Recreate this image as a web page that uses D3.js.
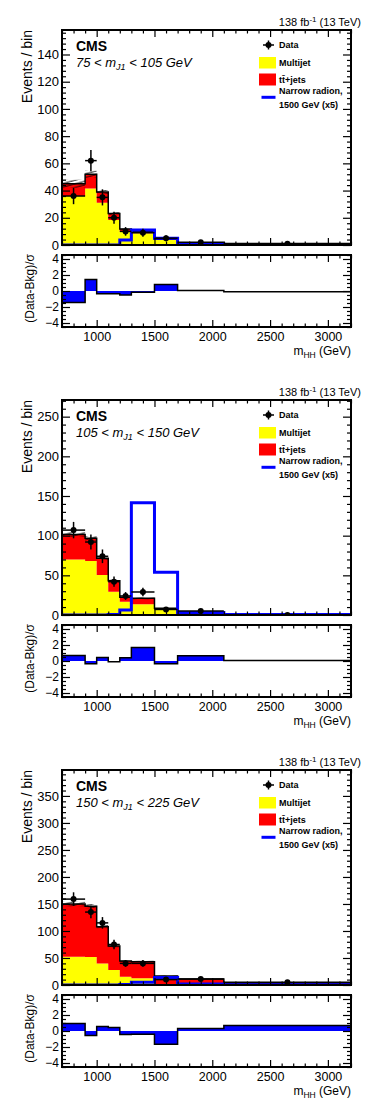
<!DOCTYPE html>
<html><head><meta charset="utf-8">
<script src="https://cdn.jsdelivr.net/npm/d3@7"></script>
<style>
body{margin:0;background:#fff}
svg{display:block}
text{font-family:"Liberation Sans",Arial,Helvetica,sans-serif;fill:#000}
</style>
</head><body>
<svg id="c" width="374" height="1109"></svg>
<script>
// ---------- data ----------
const binEdges = [700, 900, 1000, 1100, 1200, 1300, 1500, 1700, 2100, 3200];
const mJ1Low  = [75, 105, 150];
const mJ1High = [105, 150, 225];
const yMaxes  = [158, 271, 398];
const yMajorStep = [20, 50, 50];
const yMinorStep = [4, 10, 10];
const xTickLabels = [1000, 1500, 2000, 2500, 3000];
const ratioTicks = [-4, -2, 0, 2, 4];

const multijet1 = [36, 41.6, 31, 18.4, 9.8, 8.6, 3.7, 1.0, 0.8];
const ttjets1   = [9, 10.4, 8, 4.8, 1.9, 1.2, 0.7, 0.5, 0.3];
const unc1      = [3, 2.5, 1.5, 1, 0.6, 0.5, 0.3, 0.2, 0.1];
const data1     = [36, 62, 35, 20, 10, 9, 5, 2, 1];
const signal1   = [0, 0, 0, 0, 3.7, 11, 5, 0.8, 0.2];
const ratio1    = [-1.45, 1.45, -0.35, -0.35, -0.5, -0.15, 0.8, 0.05, -0.1];

const multijet2 = [70, 68, 50.4, 29.4, 16.8, 13.4, 7, 2.5, 0.6];
const ttjets2   = [31.5, 28.7, 21.1, 13.9, 5.5, 7.6, 1.4, 1.5, 0.4];
const unc2      = [3, 3, 2, 1.5, 1, 1, 0.4, 0.2, 0.1];
const data2     = [107, 92, 74, 42, 24, 29, 7, 5, 0];
const signal2   = [0, 0, 0, 0.5, 6.3, 141.6, 53.8, 3, 0.5];
const ratio2    = [0.7, -0.35, 0.45, -0.1, 0.4, 1.7, -0.35, 0.65, 0.05];

const multijet3 = [52.5, 51.7, 40, 27.8, 15.4, 12.3, 2, 1, 0.5];
const ttjets3   = [97.5, 94.3, 68, 44.2, 29, 30.9, 14.7, 10, 3];
const unc3      = [4, 4, 3, 2, 1.5, 1.5, 0.8, 0.6, 0.2];
const data3     = [159, 135, 115, 75, 40, 40, 10, 11, 5];
const signal3   = [0, 0, 0, 0, 1, 5, 14, 2, 0.3];
const ratio3    = [0.95, -0.55, 0.55, 0.45, -0.45, -0.4, -1.65, 0.3, 0.7];

const panels = [
  {mj: multijet1, tt: ttjets1, unc: unc1, data: data1, sig: signal1, ratio: ratio1},
  {mj: multijet2, tt: ttjets2, unc: unc2, data: data2, sig: signal2, ratio: ratio2},
  {mj: multijet3, tt: ttjets3, unc: unc3, data: data3, sig: signal3, ratio: ratio3}
];

// ---------- drawing ----------
const svg = d3.select("#c");
const YELLOW = "#ffff00", RED = "#ff0000", BLUE = "#0000ff";
const defs = svg.append("defs");
defs.append("pattern").attr("id", "hatch").attr("patternUnits", "userSpaceOnUse")
  .attr("width", 10).attr("height", 3.5).attr("patternTransform", "rotate(-15)")
  .append("line").attr("x1", 0).attr("y1", 1).attr("x2", 10).attr("y2", 1)
  .attr("stroke", "#000").attr("stroke-width", 0.9);

const L = 62, R = 351;
const x = d3.scaleLinear().domain([700, 3200]).range([L, R]);

function stepPoints(lo, hi) {
  const pts = [];
  lo.forEach((v, i) => {
    pts.push({x: binEdges[i], lo: v, hi: hi[i]});
    pts.push({x: binEdges[i + 1], lo: v, hi: hi[i]});
  });
  return pts;
}

function drawPanel(p, idx) {
  const off = idx * 370;
  const g = svg.append("g");
  const top = 30 + off, bot = 245 + off, rTop = 255 + off, rBot = 327 + off;
  const y = d3.scaleLinear().domain([0, yMaxes[idx]]).range([bot, top]);
  const yr = d3.scaleLinear().domain([-4.5, 4.5]).range([rBot, rTop]);

  const clipId = "clip" + idx;
  defs.append("clipPath").attr("id", clipId).append("rect")
    .attr("x", L).attr("y", top).attr("width", R - L).attr("height", bot - top);
  const plot = g.append("g").attr("clip-path", `url(#${clipId})`);

  const zeros = p.mj.map(() => 0);
  const total = p.mj.map((v, i) => v + p.tt[i]);
  const area = d3.area().x(d => x(d.x)).y0(d => y(d.lo)).y1(d => y(d.hi));
  const line = d3.line().x(d => x(d.x)).y(d => y(d.hi));

  plot.append("path").attr("d", area(stepPoints(zeros, p.mj))).attr("fill", YELLOW);
  plot.append("path").attr("d", area(stepPoints(p.mj, total))).attr("fill", RED);
  // uncertainty hatch
  const uLo = total.map((v, i) => Math.max(0, v - p.unc[i]));
  const uHi = total.map((v, i) => v + p.unc[i]);
  plot.append("path").attr("d", area(stepPoints(uLo, uHi))).attr("fill", "url(#hatch)");
  // total outline
  plot.append("path").attr("d", line(stepPoints(zeros, total)))
    .attr("fill", "none").attr("stroke", "#000").attr("stroke-width", 1.5);
  // signal
  const sigPts = [{x: 700, hi: 0}].concat(stepPoints(zeros, p.sig)).concat([{x: 3200, hi: 0}]);
  plot.append("path").attr("d", line(sigPts))
    .attr("fill", "none").attr("stroke", BLUE).attr("stroke-width", 3);
  // data
  const dg = plot.append("g");
  p.data.forEach((v, i) => {
    const cx = (binEdges[i] + binEdges[i + 1]) / 2;
    const err = Math.sqrt(v);
    const errHi = v === 0 ? 1.8 : err;
    dg.append("line").attr("x1", x(binEdges[i])).attr("x2", x(binEdges[i + 1]))
      .attr("y1", y(v)).attr("y2", y(v)).attr("stroke", "#000").attr("stroke-width", 1.5);
    dg.append("line").attr("x1", x(cx)).attr("x2", x(cx))
      .attr("y1", y(Math.max(0, v - err))).attr("y2", y(v + errHi)).attr("stroke", "#000").attr("stroke-width", 1.5);
    dg.append("circle").attr("cx", x(cx)).attr("cy", y(v)).attr("r", 3).attr("fill", "#000");
  });

  // ratio
  const rclip = "rclip" + idx;
  defs.append("clipPath").attr("id", rclip).append("rect")
    .attr("x", L).attr("y", rTop).attr("width", R - L).attr("height", rBot - rTop);
  const rp = g.append("g").attr("clip-path", `url(#${rclip})`);
  const rArea = d3.area().x(d => x(d.x)).y0(yr(0)).y1(d => yr(d.hi));
  const rLine = d3.line().x(d => x(d.x)).y(d => yr(d.hi));
  const rPts = stepPoints(zeros, p.ratio);
  rp.append("path").attr("d", rArea(rPts)).attr("fill", BLUE);
  rp.append("path").attr("d", rLine(rPts)).attr("fill", "none").attr("stroke", "#000").attr("stroke-width", 1.5);

  // axes helpers
  function ax(axisFn, scale, vals, size, fmt, pad, tr, fs) {
    const a = axisFn(scale).tickValues(vals).tickSizeInner(-size).tickSizeOuter(0).tickPadding(pad);
    if (fmt === null) a.tickFormat(""); else a.tickFormat(fmt);
    const sel = g.append("g").attr("transform", tr).call(a);
    sel.select(".domain").remove();
    sel.selectAll("line").attr("stroke", "#000").attr("stroke-width", 1.2);
    sel.selectAll("text").attr("font-size", fs || 13).attr("fill", "#000")
      .attr("font-family", '"Liberation Sans",Arial,sans-serif');
    return sel;
  }
  const xMaj = d3.range(1000, 3201, 500);
  const xMin = d3.range(700, 3201, 100).filter(v => v % 500 !== 0);
  const yMaj = d3.range(0, yMaxes[idx] + 0.01, yMajorStep[idx]);
  const yMin = d3.range(0, yMaxes[idx] + 0.01, yMinorStep[idx]).filter(v => v % yMajorStep[idx] !== 0);
  const fmtMinus = d => (d < 0 ? "\u2212" + Math.abs(d) : "" + d);

  // main panel
  ax(d3.axisLeft, y, yMaj, 8, d => d, 3, `translate(${L},0)`, 13);
  ax(d3.axisLeft, y, yMin, 4, null, 3, `translate(${L},0)`);
  ax(d3.axisRight, y, yMaj, 8, null, 3, `translate(${R},0)`);
  ax(d3.axisRight, y, yMin, 4, null, 3, `translate(${R},0)`);
  ax(d3.axisBottom, x, xMaj, 7, null, 3, `translate(0,${bot})`);
  ax(d3.axisBottom, x, xMin, 3.5, null, 3, `translate(0,${bot})`);
  ax(d3.axisTop, x, xMaj, 7, null, 3, `translate(0,${top})`);
  ax(d3.axisTop, x, xMin, 3.5, null, 3, `translate(0,${top})`);
  // ratio panel
  const rMin = d3.range(-4.5, 4.51, 0.5).filter(v => v % 2 !== 0);
  ax(d3.axisLeft, yr, ratioTicks, 8, fmtMinus, 3, `translate(${L},0)`, 12);
  ax(d3.axisLeft, yr, rMin, 4, null, 3, `translate(${L},0)`);
  ax(d3.axisRight, yr, ratioTicks, 8, null, 3, `translate(${R},0)`);
  ax(d3.axisRight, yr, rMin, 4, null, 3, `translate(${R},0)`);
  ax(d3.axisBottom, x, xTickLabels, 7, d => d, 5, `translate(0,${rBot})`, 12.5);
  ax(d3.axisBottom, x, xMin, 3.5, null, 3, `translate(0,${rBot})`);
  ax(d3.axisTop, x, xMaj, 7, null, 3, `translate(0,${rTop})`);
  ax(d3.axisTop, x, xMin, 3.5, null, 3, `translate(0,${rTop})`);

  // frames
  g.append("rect").attr("x", L).attr("y", top).attr("width", R - L).attr("height", bot - top)
    .attr("fill", "none").attr("stroke", "#000").attr("stroke-width", 2);
  g.append("rect").attr("x", L).attr("y", rTop).attr("width", R - L).attr("height", rBot - rTop)
    .attr("fill", "none").attr("stroke", "#000").attr("stroke-width", 2);

  // titles
  const lumi = g.append("text").attr("x", 361).attr("y", 26 + off).attr("text-anchor", "end").attr("font-size", 11);
  lumi.append("tspan").text("138 fb");
  lumi.append("tspan").attr("dy", -4).attr("font-size", 8).text("-1");
  lumi.append("tspan").attr("dy", 4).text(" (13 TeV)");

  g.append("text").attr("transform", `translate(32,${30 + off}) rotate(-90)`).attr("text-anchor", "end")
    .attr("font-size", 14).text("Events / bin");
  g.append("text").attr("transform", `translate(34,${254 + off}) rotate(-90)`).attr("text-anchor", "end")
    .attr("font-size", 12).text("(Data-Bkg)/\u03c3");
  const xt = g.append("text").attr("x", R).attr("y", 355 + off).attr("text-anchor", "end").attr("font-size", 12);
  xt.append("tspan").text("m");
  xt.append("tspan").attr("dy", 3).attr("font-size", 8.5).text("HH");
  xt.append("tspan").attr("dy", -3).text(" (GeV)");

  g.append("text").attr("x", 76).attr("y", 50.7 + off).attr("font-size", 14).attr("font-weight", "bold").text("CMS");
  const sub = g.append("text").attr("x", 76).attr("y", 66.5 + off).attr("font-size", 13).attr("font-style", "italic");
  sub.append("tspan").text(`${mJ1Low[idx]} < m`);
  sub.append("tspan").attr("dy", 3).attr("font-size", 9).text("J1");
  sub.append("tspan").attr("dy", -3).text(` < ${mJ1High[idx]} GeV`);

  // legend
  const lg = g.append("g").attr("font-size", 9).attr("font-weight", "bold");
  lg.append("line").attr("x1", 263).attr("x2", 274).attr("y1", 45 + off).attr("y2", 45 + off).attr("stroke", "#000").attr("stroke-width", 1.5);
  lg.append("line").attr("x1", 268.5).attr("x2", 268.5).attr("y1", 40.5 + off).attr("y2", 49.5 + off).attr("stroke", "#000").attr("stroke-width", 1.5);
  lg.append("circle").attr("cx", 268.5).attr("cy", 45 + off).attr("r", 3).attr("fill", "#000");
  lg.append("text").attr("x", 279).attr("y", 48 + off).text("Data");
  lg.append("rect").attr("x", 259).attr("y", 57 + off).attr("width", 17).attr("height", 11.5).attr("fill", YELLOW);
  lg.append("text").attr("x", 279).attr("y", 66 + off).text("Multijet");
  lg.append("rect").attr("x", 259).attr("y", 73.5 + off).attr("width", 17).attr("height", 12).attr("fill", RED);
  lg.append("text").attr("x", 279).attr("y", 83 + off).text("tt\u0304+jets");
  lg.append("line").attr("x1", 261.5).attr("x2", 275.5).attr("y1", 97.3 + off).attr("y2", 97.3 + off).attr("stroke", BLUE).attr("stroke-width", 3);
  lg.append("text").attr("x", 279).attr("y", 94 + off).text("Narrow radion,");
  lg.append("text").attr("x", 279).attr("y", 107.5 + off).text("1500 GeV (x5)");
}

panels.forEach((p, i) => drawPanel(p, i));
</script>
</body></html>
